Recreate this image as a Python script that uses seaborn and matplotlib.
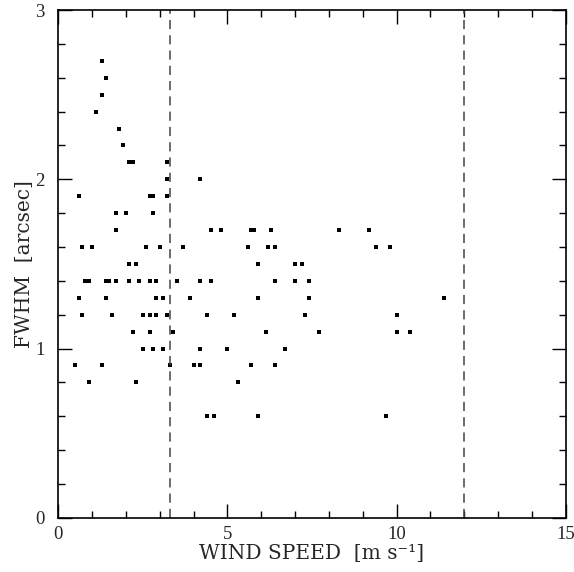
import numpy as np
import pandas as pd
import matplotlib
matplotlib.use('Agg')
import matplotlib.pyplot as plt
import seaborn as sns

# wind speed [m/s] and seeing FWHM [arcsec]
wind = [1.3, 1.4, 1.3, 1.1, 1.8, 1.9,
        2.1, 2.2, 3.2,
        3.2, 4.2,
        0.6, 2.7, 2.8, 3.2,
        1.7, 2.0, 2.8,
        1.7, 4.5, 4.8, 5.7, 5.8, 6.3, 8.3, 9.2,
        0.7, 1.0, 2.6, 3.0, 3.7, 5.6, 6.2, 6.4, 9.4, 9.8,
        2.1, 2.3, 5.9, 7.0, 7.2,
        0.8, 0.9, 1.4, 1.5, 1.7, 2.1, 2.4, 2.7, 2.9, 3.5, 4.2, 4.5, 6.4, 7.0, 7.4,
        0.6, 1.4, 2.9, 3.1, 3.9, 5.9, 7.4, 11.4,
        0.7, 1.6, 2.5, 2.7, 2.9, 3.2, 4.4, 5.2, 7.3, 10.0,
        2.2, 2.7, 3.4, 6.15, 7.7, 10.0, 10.4,
        2.5, 2.8, 3.1, 4.2, 5.0, 6.7,
        0.5, 1.3, 3.3, 4.0, 4.2, 5.7, 6.4,
        0.9, 2.3, 5.3,
        4.4, 4.6, 5.9, 9.7]
fwhm = [2.7, 2.6, 2.5, 2.4, 2.3, 2.2,
        2.1, 2.1, 2.1,
        2.0, 2.0,
        1.9, 1.9, 1.9, 1.9,
        1.8, 1.8, 1.8,
        1.7, 1.7, 1.7, 1.7, 1.7, 1.7, 1.7, 1.7,
        1.6, 1.6, 1.6, 1.6, 1.6, 1.6, 1.6, 1.6, 1.6, 1.6,
        1.5, 1.5, 1.5, 1.5, 1.5,
        1.4, 1.4, 1.4, 1.4, 1.4, 1.4, 1.4, 1.4, 1.4, 1.4, 1.4, 1.4, 1.4, 1.4, 1.4,
        1.3, 1.3, 1.3, 1.3, 1.3, 1.3, 1.3, 1.3,
        1.2, 1.2, 1.2, 1.2, 1.2, 1.2, 1.2, 1.2, 1.2, 1.2,
        1.1, 1.1, 1.1, 1.1, 1.1, 1.1, 1.1,
        1.0, 1.0, 1.0, 1.0, 1.0, 1.0,
        0.9, 0.9, 0.9, 0.9, 0.9, 0.9, 0.9,
        0.8, 0.8, 0.8,
        0.6, 0.6, 0.6, 0.6]
limits = [3.3, 12.0]

df = pd.DataFrame({'wind': wind, 'fwhm': fwhm})

sns.set_style('ticks')
plt.rcParams['font.family'] = ['Liberation Serif', 'DejaVu Serif']

fig = plt.figure(figsize=(5.74, 5.72), dpi=100)
ax = fig.add_axes([0.1016, 0.0949, 0.8839, 0.8874])

sns.scatterplot(data=df, x='wind', y='fwhm', marker='s', s=9, color='black',
                linewidth=0, ax=ax)
for xv in limits:
    ax.axvline(xv, color='#444444', lw=1.1, linestyle=(0, (6, 4)))

ax.set_xlim(0, 15)
ax.set_ylim(0, 3)
ax.set_xticks([0, 5, 10, 15])
ax.set_xticks(np.arange(0, 15.01, 1), minor=True)
ax.set_yticks([0, 1, 2, 3])
ax.set_yticks(np.arange(0, 3.01, 0.2), minor=True)
ax.tick_params(which='both', direction='in', top=True, right=True,
               labelsize=13.5, width=1, color='black')
ax.tick_params(which='major', length=10)
ax.tick_params(which='minor', length=5)
ax.tick_params(axis='x', which='major', pad=6)
ax.tick_params(axis='y', which='major', pad=10)
for sp in ax.spines.values():
    sp.set_visible(True)
    sp.set_linewidth(1.2)
    sp.set_color('black')

lab_font = {'family': ['DejaVu Serif'], 'size': 14.5}
ax.set_xlabel('WIND SPEED  [m s\u207b\u00b9]', fontdict=lab_font, labelpad=1)
ax.set_ylabel('FWHM  [arcsec]', fontdict=lab_font, labelpad=1)

fig.savefig('out.png', dpi=100)
